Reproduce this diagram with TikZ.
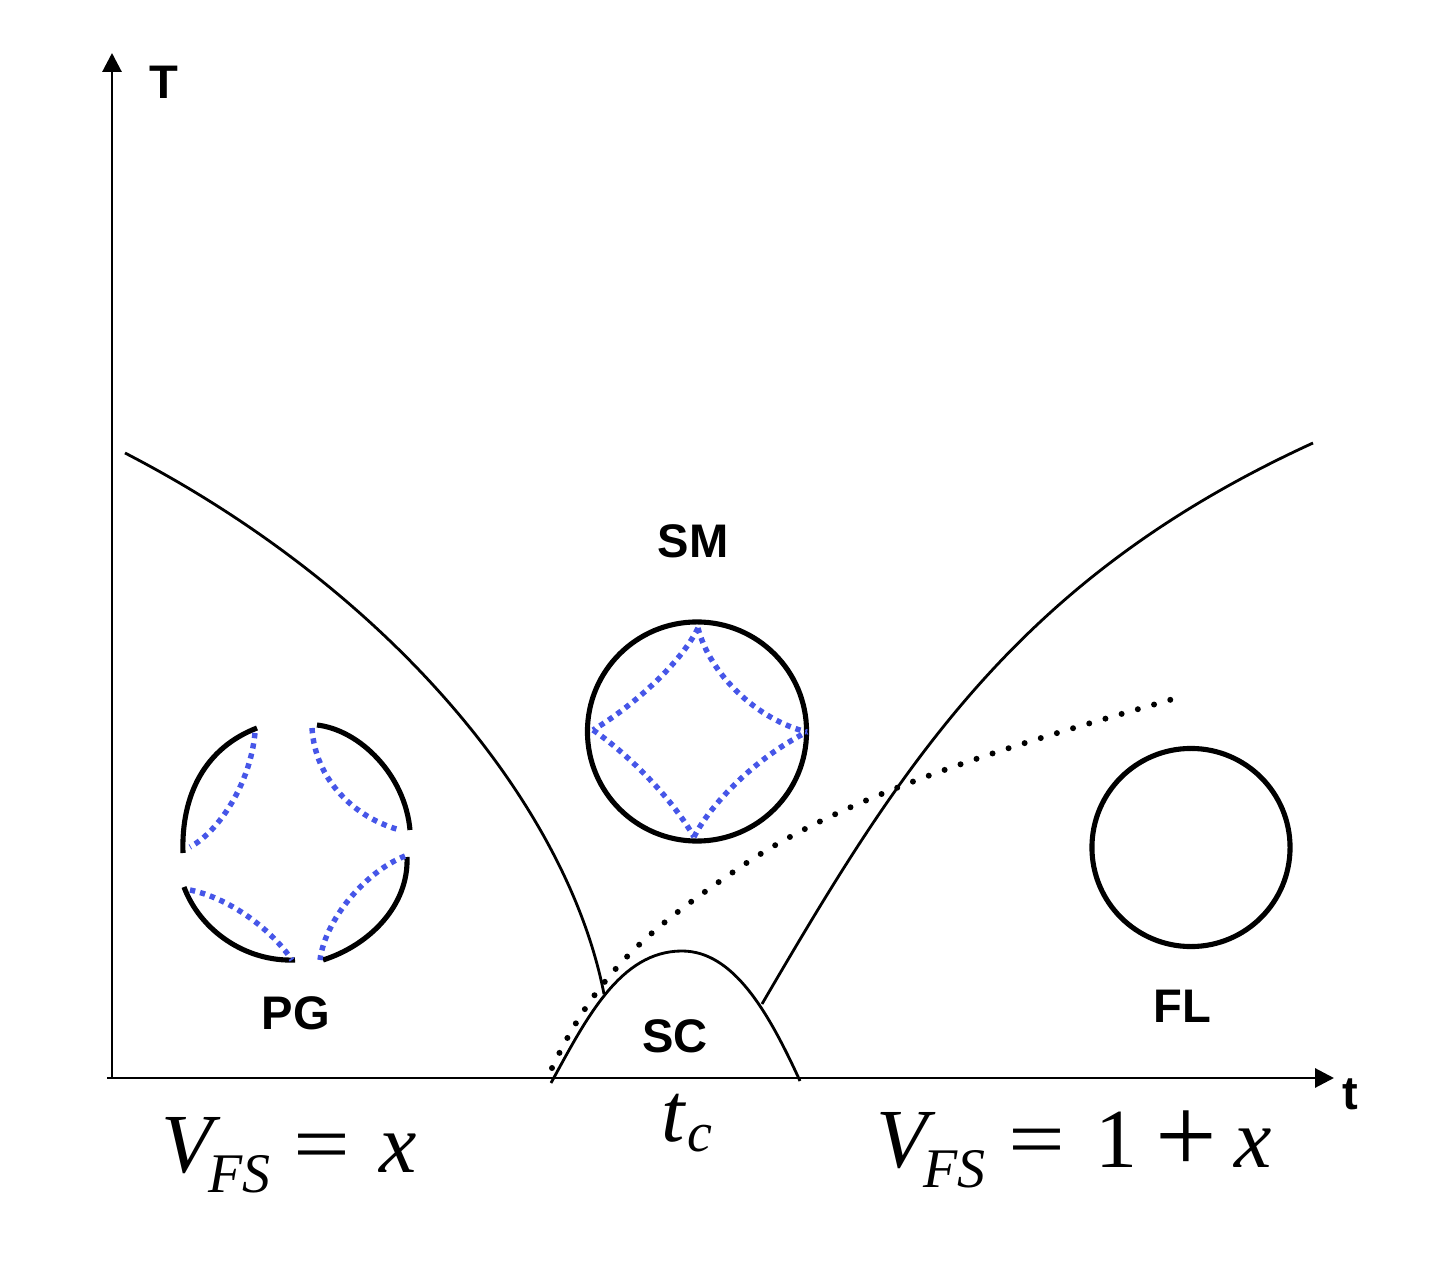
\documentclass[tikz,border=0pt]{standalone}
\usepackage{fontspec}
\setmainfont{Liberation Serif}
\setsansfont{Liberation Sans}
\usetikzlibrary{arrows.meta}
\definecolor{fsblue}{RGB}{70,86,232}
\newcommand{\bigeq}{\scalebox{1.2}[1]{=}}
\newcommand{\bigplus}{\raisebox{-0.06em}{\scalebox{1.3}{+}}}
\begin{document}
\begin{tikzpicture}[x=0.01cm,y=-0.01cm,
  axis/.style={line width=0.85pt, -{Triangle[length=5.4pt,width=5.4pt]}},
  bound/.style={line width=0.8pt},
  fermi/.style={line width=1.45pt},
  hot/.style={line width=1.55pt, fsblue, dash pattern=on 1.5pt off 1.45pt},
  crossover/.style={line width=1.7pt, dash pattern=on 0pt off 4.8pt, line cap=round},
  phase/.style={font=\sffamily\bfseries\fontsize{13.4}{16}\selectfont, inner sep=0pt},
  formula/.style={font=\fontsize{23.9}{28}\selectfont, inner sep=0pt, anchor=base west},
  fs/.style={circle, draw, fermi, inner sep=0pt}
]
\useasboundingbox (0,0) rectangle (1454,1264);

% axes
\coordinate (O) at (112,1078);
\coordinate (Xstart) at (107,1078);
\coordinate (Ytop) at (112,53);
\coordinate (Xend) at (1334,1078);
\draw[axis] (O) -- (Ytop);
\draw[axis] (Xstart) -- (Xend);
\node[phase] (Tlab) at (164,82) {T};
\node[phase] (tlab) at (1350,1094) {t};

% phase boundaries
\coordinate (L0) at (125,453);
\coordinate (L1) at (604,994);
\coordinate (R0) at (762,1004);
\coordinate (R1) at (1313,443);
\draw[bound] (L0) .. controls (390,590) and (567,805) .. (L1);
\draw[bound] (R0) .. controls (902,764) and (1018,578) .. (R1);
% SC dome
\coordinate (D0) at (551,1083);
\coordinate (Dtop) at (682,951);
\coordinate (D1) at (800,1081);
\draw[bound] (D0) .. controls (586,1019) and (620,951) .. (Dtop)
   .. controls (733,951) and (768,1011) .. (D1);
% crossover (dotted)
\coordinate (C0) at (552,1068);
\coordinate (Cm) at (742,866);
\coordinate (C1) at (1180,697);
\draw[crossover] (C0) .. controls (599,969) and (651,928) .. (Cm)
   .. controls (858,787) and (1046,736) .. (C1);

% SM Fermi surface
\node[fs, minimum size=2.19cm] (SMc) at (697,731.5) {};
\coordinate (st) at (698,628);
\coordinate (sr) at (807,732);
\coordinate (sb) at (694,837);
\coordinate (sl) at (593,730);
\draw[hot] (st) .. controls (710,675) and (758,720) .. (sr);
\draw[hot] (st) .. controls (680,665) and (630,708) .. (sl);
\draw[hot] (sl) .. controls (625,752) and (670,795) .. (sb);
\draw[hot] (sb) .. controls (710,805) and (755,758) .. (sr);
\node[phase] (SM) at (693,541) {SM};

% PG: gapped Fermi arcs
\draw[fermi] (257,728) .. controls (205,748) and (181,795) .. (183,853);
\draw[fermi] (317,725) .. controls (360,730) and (405,775) .. (410,830);
\draw[fermi] (407,857) .. controls (409,905) and (370,945) .. (323,960);
\draw[fermi] (184,887) .. controls (200,930) and (245,962) .. (295,960);
\draw[hot] (255,733) .. controls (250,785) and (218,832) .. (190,847);
\draw[hot] (312,728) .. controls (315,780) and (355,818) .. (400,830);
\draw[hot] (190,890) .. controls (225,897) and (268,925) .. (292,960);
\draw[hot] (405,856) .. controls (365,872) and (325,920) .. (320,960);
\node[phase] (PG) at (296,1013) {PG};

% FL Fermi surface
\node[fs, minimum size=1.98cm] (FLc) at (1191,847.5) {};
\node[phase] (FL) at (1182,1006) {FL};

\node[phase] (SC) at (675,1036) {SC};

% formulas
\node[formula] (tc) at (661,1141) {\itshape t\kern0.6pt\raisebox{-3pt}{\fontsize{15.9}{18}\selectfont c}};
\node[formula] (Vleft) at (161,1172) {\itshape V\kern-1.4pt\raisebox{-5.7pt}{\fontsize{15.9}{18}\selectfont FS}\upshape\hspace{6.6pt}\bigeq\hspace{8.3pt}\itshape x};
\node[formula] (Vright) at (876,1167) {\itshape V\kern-1.4pt\raisebox{-5.7pt}{\fontsize{15.9}{18}\selectfont FS}\upshape\hspace{6.6pt}\bigeq\hspace{8.6pt}1\hspace{5pt}\bigplus\hspace{5pt}\itshape x};
\end{tikzpicture}
\end{document}
